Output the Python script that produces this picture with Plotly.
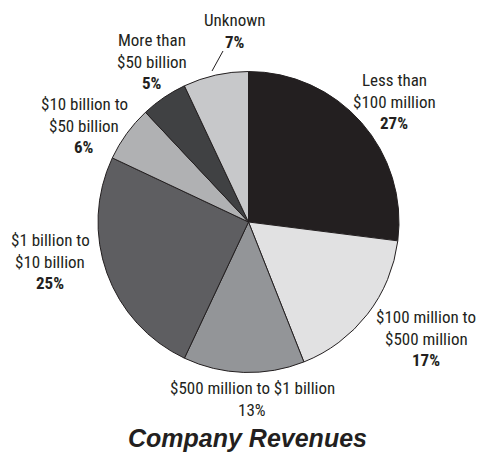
import plotly.graph_objects as go

# Company revenue bands, clockwise from 12 o'clock
categories = [
    "Less than $100 million",
    "$100 million to $500 million",
    "$500 million to $1 billion",
    "$1 billion to $10 billion",
    "$10 billion to $50 billion",
    "More than $50 billion",
    "Unknown",
]
shares = [27, 17, 13, 25, 6, 5, 7]
label_lines = [
    ["Less than", "$100 million"],
    ["$100 million to", "$500 million"],
    ["$500 million to $1 billion"],
    ["$1 billion to", "$10 billion"],
    ["$10 billion to", "$50 billion"],
    ["More than", "$50 billion"],
    ["Unknown"],
]
slice_colors = ["#231f20", "#e1e1e2", "#939598", "#5e5e61", "#b0b1b3", "#404143", "#c7c8ca"]

W, H = 479, 458
FONT = "Liberation Sans Narrow, Roboto Condensed, Arial Narrow, Liberation Sans, sans-serif"
TITLE_FONT = "Liberation Sans, Arial, sans-serif"

# pie geometry in pixels
cx, cy, r = 248.5, 222, 150.5


def px_x(x):
    return x / W


def px_y(y):
    return 1 - y / H


fig = go.Figure()
fig.add_trace(go.Pie(
    labels=categories,
    values=shares,
    sort=False,
    direction="clockwise",
    rotation=0,
    textinfo="none",
    hoverinfo="label+percent",
    marker=dict(colors=slice_colors, line=dict(color="#231f20", width=1)),
    domain=dict(x=[px_x(cx - r), px_x(cx + r)], y=[px_y(cy + r), px_y(cy - r)]),
    showlegend=False,
))

# label anchor (centre x, first-line y) for each slice, plus whether the % is bold
label_pos = [
    (394, 80, True),
    (426, 317, True),
    (252, 388, False),
    (50, 240, True),
    (84, 104, True),
    (152, 40, True),
    (235, 20, True),
]
LINE = 21.5
annotations = []
for lines, share, (lx, ly, bold) in zip(label_lines, shares, label_pos):
    texts = list(lines) + [f"<b>{share}%</b>" if bold else f"{share}%"]
    for i, t in enumerate(texts):
        annotations.append(dict(
            x=px_x(lx), y=px_y(ly + i * LINE), xref="paper", yref="paper",
            text=t, showarrow=False, xanchor="center", yanchor="middle",
            font=dict(family=FONT, size=17, color="#231f20"),
        ))

annotations.append(dict(
    x=px_x(247), y=px_y(438), xref="paper", yref="paper",
    text="<b><i>Company Revenues</i></b>", showarrow=False,
    xanchor="center", yanchor="middle",
    font=dict(family=TITLE_FONT, size=25, color="#231f20"),
))

fig.update_layout(
    width=W, height=H,
    margin=dict(l=0, r=0, t=0, b=0),
    paper_bgcolor="white", plot_bgcolor="white",
    annotations=annotations,
    shapes=[dict(type="line", xref="paper", yref="paper",
                 x0=px_x(212), y0=px_y(71), x1=px_x(223), y1=px_y(51),
                 line=dict(color="#231f20", width=1))],
)

fig.write_html("out.html", config={"displayModeBar": False})
